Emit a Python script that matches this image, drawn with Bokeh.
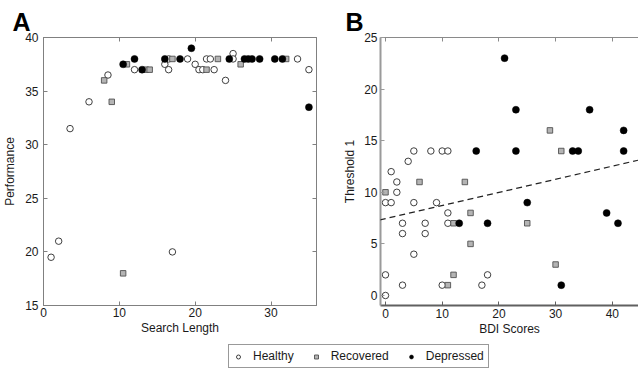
from bokeh.plotting import figure
from bokeh.models import (Range1d, LinearAxis, FixedTicker, Slope,
                          Legend, LegendItem)
from bokeh.layouts import column, row
from bokeh.embed import file_html
from bokeh.resources import INLINE

# ---------------- Data: Panel A (Search Length vs Performance) ----------------
a_healthy_x = [1, 2, 3.5, 6, 8.5, 12, 16, 16.5, 16.5, 17, 19, 20, 20.5, 21, 21.5, 22, 22.5, 24, 25, 25, 33.5, 35]
a_healthy_y = [19.5, 21, 31.5, 34, 36.5, 37, 37.5, 38, 37, 20, 38, 37.5, 37, 37, 38, 38, 37, 36, 38.5, 38, 38, 37]
a_recovered_x = [8, 9, 10.5, 11, 13.5, 14, 17, 21.5, 23, 26, 32]
a_recovered_y = [36, 34, 18, 37.5, 37, 37, 38, 37, 38, 37.5, 38]
a_depressed_x = [10.5, 12, 13, 16, 18, 19.5, 24.5, 26.5, 27, 27.5, 28.5, 30.5, 31.5, 35]
a_depressed_y = [37.5, 38, 37, 38, 38, 39, 38, 38, 38, 38, 38, 38, 38, 33.5]

a_xticks = [0, 10, 20, 30]
a_yticks = [15, 20, 25, 30, 35, 40]

# ---------------- Data: Panel B (BDI Scores vs Threshold 1) ----------------
b_healthy_x = [1, 4, 5, 8, 10, 11, 2, 2, 0, 1, 5, 9, 11, 3, 7, 11, 3, 7, 5, 0, 18, 3, 10, 17, 0]
b_healthy_y = [12, 13, 14, 14, 14, 14, 11, 10, 9, 9, 9, 9, 8, 7, 7, 7, 6, 6, 4, 2, 2, 1, 1, 1, 0]
b_recovered_x = [0, 6, 14, 15, 12, 25, 15, 12, 30, 11, 29, 31]
b_recovered_y = [10, 11, 11, 8, 7, 7, 5, 2, 3, 1, 16, 14]
b_depressed_x = [21, 23, 36, 42, 16, 23, 33, 34, 42, 25, 13, 18, 39, 41, 31]
b_depressed_y = [23, 18, 18, 16, 14, 14, 14, 14, 14, 9, 7, 7, 8, 7, 1]

b_fit_slope = 0.127
b_fit_intercept = 7.45

b_xticks = [0, 10, 20, 30, 40]
b_yticks = [0, 5, 10, 15, 20, 25]

legend_labels = ["Healthy", "Recovered", "Depressed"]
panel_letters = ["A", "B"]

FONT = "Liberation Sans"
TXT = "#1a1a1a"


def make_axis(cls, ticks, labels=True, title=None, color="#808080", width=1,
              label_standoff=4, title_standoff=2):
    ax = cls(ticker=FixedTicker(ticks=ticks))
    ax.axis_line_color = color
    ax.axis_line_width = width
    ax.major_tick_line_color = color
    ax.major_tick_in = 4
    ax.major_tick_out = 0
    ax.minor_tick_line_color = None
    ax.major_label_text_font = FONT
    ax.major_label_text_color = TXT
    ax.major_label_text_font_size = "12px"
    if labels:
        ax.major_label_standoff = label_standoff
    else:
        ax.major_label_overrides = {t: "" for t in ticks}
        ax.major_label_standoff = 0
    if title:
        ax.axis_label = title
        ax.axis_label_text_font = FONT
        ax.axis_label_text_font_size = "12px"
        ax.axis_label_text_font_style = "normal"
        ax.axis_label_text_color = TXT
        ax.axis_label_standoff = title_standoff
    return ax


def add_points(p, hx, hy, rx, ry, dx, dy):
    rh = p.scatter(hx, hy, marker="circle", size=6.5, fill_color="white",
                   line_color="#2a2a2a", line_width=0.9)
    rr = p.scatter(rx, ry, marker="square", size=5.5, fill_color="#b4b4b4",
                   line_color="#505050", line_width=0.9)
    rd = p.scatter(dx, dy, marker="circle", size=7, fill_color="black",
                   line_color="black", line_width=0.5)
    return rh, rr, rd


def style_title(p, offset):
    p.title.text_font = FONT
    p.title.text_font_size = "25px"
    p.title.text_font_style = "bold"
    p.title.text_color = "black"
    p.title.align = "left"
    p.title.offset = offset
    p.title.standoff = 3


# ---------------- Panel A ----------------
pa = figure(width=330, height=338, x_range=Range1d(0, 36), y_range=Range1d(15, 40),
            x_axis_type=None, y_axis_type=None, title=panel_letters[0],
            output_backend="svg", toolbar_location=None,
            min_border_left=43, min_border_right=14, min_border_top=37, min_border_bottom=32)
style_title(pa, -31)
pa.outline_line_color = "#808080"
pa.add_layout(make_axis(LinearAxis, a_yticks, True, "Performance", label_standoff=5, title_standoff=5), "left")
pa.add_layout(make_axis(LinearAxis, a_xticks, True, "Search Length", label_standoff=2, title_standoff=1), "below")
pa.add_layout(make_axis(LinearAxis, a_xticks, False), "above")
pa.add_layout(make_axis(LinearAxis, a_yticks, False), "right")
add_points(pa, a_healthy_x, a_healthy_y, a_recovered_x, a_recovered_y, a_depressed_x, a_depressed_y)

# ---------------- Panel B ----------------
pb = figure(width=308, height=338, x_range=Range1d(-0.88, 44.62), y_range=Range1d(-0.97, 25),
            x_axis_type=None, y_axis_type=None, title=panel_letters[1],
            output_backend="svg", toolbar_location=None,
            min_border_left=50, min_border_right=0, min_border_top=37, min_border_bottom=33)
style_title(pb, -35)
pb.outline_line_color = None
pb.add_layout(make_axis(LinearAxis, b_yticks, True, "Threshold 1", color="#9a9a9a", width=2,
                        label_standoff=3, title_standoff=4), "left")
pb.add_layout(make_axis(LinearAxis, b_xticks, True, "BDI Scores", color="#606060", width=2,
                        label_standoff=3, title_standoff=1), "below")
pb.add_layout(make_axis(LinearAxis, b_xticks, False, color="#8a8a8a"), "above")
pb.add_layout(Slope(gradient=b_fit_slope, y_intercept=b_fit_intercept, line_color="#222222",
                    line_width=1.2, line_dash="6 4"))
add_points(pb, b_healthy_x, b_healthy_y, b_recovered_x, b_recovered_y, b_depressed_x, b_depressed_y)

# ---------------- Legend strip (same series, drawn outside its view) ----------------
pl = figure(width=638, height=32, x_range=Range1d(0, 1), y_range=Range1d(0, 1),
            x_axis_type=None, y_axis_type=None, output_backend="svg", toolbar_location=None,
            min_border_left=0, min_border_right=0, min_border_top=0, min_border_bottom=0)
pl.outline_line_color = None
r_h, r_r, r_d = add_points(pl, a_healthy_x, a_healthy_y, a_recovered_x, a_recovered_y,
                           a_depressed_x, a_depressed_y)
leg = Legend(items=[LegendItem(label=legend_labels[0], renderers=[r_h]),
                    LegendItem(label=legend_labels[1], renderers=[r_r]),
                    LegendItem(label=legend_labels[2], renderers=[r_d])],
             orientation="horizontal", location=(228, 2), margin=0, padding=4,
             spacing=17, label_standoff=10, glyph_width=10, glyph_height=13,
             label_height=13, label_text_font=FONT, label_text_font_size="12px",
             label_text_color=TXT, border_line_color="#333333", border_line_width=1,
             background_fill_color="white", background_fill_alpha=1)
pl.add_layout(leg, "center")

layout = column(row(pa, pb), pl)

open("out.html", "w").write(file_html(layout, INLINE))
